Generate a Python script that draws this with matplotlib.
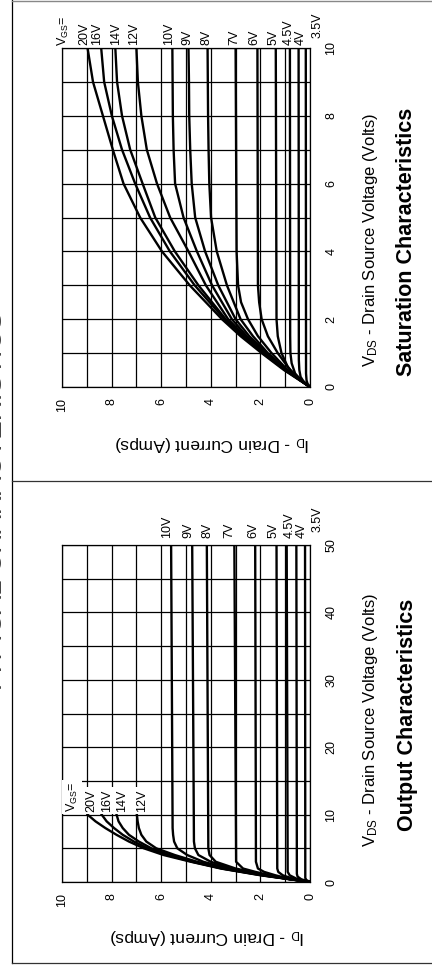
import matplotlib
matplotlib.use('Agg')
import matplotlib.pyplot as plt
from matplotlib.lines import Line2D

plt.rcParams['font.family'] = ['Liberation Sans', 'DejaVu Sans']
plt.rcParams['mathtext.fontset'] = 'custom'
plt.rcParams['mathtext.rm'] = 'Liberation Sans'
plt.rcParams['mathtext.it'] = 'Liberation Sans:italic'
plt.rcParams['mathtext.bf'] = 'Liberation Sans:bold'

# saturation characteristics, VDS 0..10 V
sat_labels = ['20V', '16V', '14V', '12V', '10V', '9V', '8V', '7V', '6V', '5V', '4.5V', '4V', '3.5V']
sat_vds = [
    [0, 0.5, 1, 1.5, 2, 3, 4, 5, 6, 7, 8, 9, 10],
    [0, 0.5, 1, 1.5, 2, 3, 4, 5, 6, 7, 8, 9, 10],
    [0, 0.5, 1, 1.5, 2, 3, 4, 5, 6, 7, 8, 9, 10],
    [0, 0.5, 1, 1.5, 2, 3, 4, 5, 6, 7, 8, 9, 10],
    [0, 0.5, 1, 1.5, 2, 3, 4, 5, 6, 7, 8, 9, 10],
    [0, 0.5, 1, 1.5, 2, 3, 4, 5, 6, 7, 8, 9, 10],
    [0, 0.5, 1, 1.5, 2, 3, 4, 5, 6, 7, 8, 9, 10],
    [0, 0.5, 1, 1.5, 2, 2.5, 3, 4, 10],
    [0, 0.5, 1, 1.5, 2, 2.5, 3, 10],
    [0, 0.3, 0.6, 1, 1.5, 2, 10],
    [0, 0.2, 0.4, 0.7, 1, 1.5, 10],
    [0, 0.15, 0.3, 0.5, 0.8, 10],
    [0, 0.1, 0.2, 0.4, 10],
]
sat_id = [
    [0, 1.05, 1.95, 2.8, 3.55, 4.85, 5.97, 6.85, 7.52, 7.95, 8.35, 8.75, 8.97],
    [0, 1.0, 1.9, 2.7, 3.45, 4.65, 5.65, 6.45, 7.05, 7.58, 7.99, 8.3, 8.42],
    [0, 1.0, 1.88, 2.68, 3.4, 4.5, 5.45, 6.24, 6.75, 7.25, 7.58, 7.78, 7.85],
    [0, 0.98, 1.85, 2.62, 3.3, 4.2, 4.9, 5.64, 6.17, 6.58, 6.8, 6.94, 7.0],
    [0, 0.95, 1.8, 2.55, 3.15, 3.95, 4.56, 5.1, 5.44, 5.5, 5.53, 5.54, 5.55],
    [0, 0.95, 1.75, 2.45, 3.0, 3.7, 4.23, 4.63, 4.77, 4.83, 4.87, 4.88, 4.9],
    [0, 0.93, 1.7, 2.3, 2.8, 3.35, 3.76, 3.99, 4.06, 4.09, 4.11, 4.12, 4.13],
    [0, 0.9, 1.55, 2.1, 2.5, 2.78, 2.9, 2.96, 3.0],
    [0, 0.8, 1.3, 1.7, 1.95, 2.05, 2.1, 2.12],
    [0, 0.55, 0.9, 1.15, 1.3, 1.35, 1.38],
    [0, 0.38, 0.6, 0.74, 0.79, 0.8, 0.81],
    [0, 0.25, 0.38, 0.43, 0.45, 0.46],
    [0, 0.1, 0.14, 0.16, 0.17],
]

# output characteristics, VDS 0..50 V
out_labels = ['20V', '16V', '14V', '12V', '10V', '9V', '8V', '7V', '6V', '5V', '4.5V', '4V', '3.5V']
out_vds = [
    [0, 1, 2, 3, 4, 5, 6, 7, 8, 9, 10],
    [0, 1, 2, 3, 4, 5, 6, 7, 8, 9, 10],
    [0, 1, 2, 3, 4, 5, 6, 7, 8, 9, 10],
    [0, 1, 2, 3, 4, 5, 6, 7, 8, 9, 10],
    [0, 1, 2, 3, 4, 5, 6, 7, 8, 50],
    [0, 1, 2, 3, 4, 5, 6, 50],
    [0, 1, 2, 3, 4, 5, 50],
    [0, 0.5, 1, 1.5, 2, 3, 50],
    [0, 0.5, 1, 1.5, 2, 3, 50],
    [0, 0.5, 1, 1.5, 2, 50],
    [0, 0.5, 1, 1.5, 50],
    [0, 0.4, 0.8, 1.2, 50],
    [0, 0.3, 0.6, 50],
]
out_id = [
    [0, 2.0, 3.6, 4.8, 5.9, 6.7, 7.3, 7.8, 8.25, 8.65, 8.97],
    [0, 1.95, 3.55, 4.75, 5.75, 6.55, 7.1, 7.55, 7.9, 8.2, 8.4],
    [0, 1.9, 3.5, 4.7, 5.65, 6.4, 6.9, 7.3, 7.55, 7.72, 7.8],
    [0, 1.85, 3.4, 4.55, 5.45, 6.2, 6.6, 6.8, 6.9, 6.95, 6.98],
    [0, 1.85, 3.3, 4.3, 4.95, 5.35, 5.48, 5.52, 5.54, 5.6],
    [0, 1.8, 3.15, 4.0, 4.5, 4.64, 4.68, 4.75],
    [0, 1.75, 3.0, 3.8, 4.05, 4.1, 4.16],
    [0, 1.0, 1.6, 2.2, 2.7, 2.98, 3.05],
    [0, 0.85, 1.4, 1.85, 2.1, 2.18, 2.21],
    [0, 0.7, 1.1, 1.28, 1.32, 1.35],
    [0, 0.55, 0.82, 0.9, 0.94],
    [0, 0.35, 0.5, 0.53, 0.55],
    [0, 0.15, 0.19, 0.2],
]

W, H = 432, 966
fig = plt.figure(figsize=(W / 100, H / 100), dpi=100)


def fx(px):
    return px / W


def fy(py):
    return 1 - py / H


def make_panel(top, bottom, vmax, vstep, vlabel_step):
    ax = fig.add_axes([fx(62), fy(bottom), fx(310) - fx(62), fy(top) - fy(bottom)])
    ax.set_xlim(10, 0)
    ax.set_ylim(0, vmax)
    ax.set_xticks(range(0, 11))
    ax.set_xticklabels([str(v) if v % 2 == 0 else '' for v in range(0, 11)], rotation=90)
    vt = list(range(0, vmax + 1, vstep))
    ax.set_yticks(vt)
    ax.set_yticklabels([str(v) if v % vlabel_step == 0 else '' for v in vt], rotation=90, va='center')
    ax.yaxis.tick_right()
    ax.tick_params(axis='x', length=0, pad=8, labelsize=9)
    ax.tick_params(axis='y', length=0, pad=11, labelsize=9)
    ax.grid(True, color='black', lw=0.9)
    for s in ax.spines.values():
        s.set_linewidth(0.9)
    ax.set_axisbelow(True)
    return ax


ax1 = make_panel(48, 387, 10, 1, 2)
for v, i in zip(sat_vds, sat_id):
    ax1.plot(i, v, color='black', lw=1.7, solid_joinstyle='round')

sat_pos = [9.1, 8.58, 7.81, 7.09, 5.68, 4.96, 4.19, 3.06, 2.26, 1.49, 0.85, 0.36, -0.32]
ax1.text(9.95, 10.05, r'V$_{\mathrm{GS}}$=', rotation=90, ha='center', va='bottom', fontsize=9, clip_on=False)
for lab, xp in zip(sat_labels, sat_pos):
    ax1.text(xp, 10.1 if xp > 0 else 10.3, lab, rotation=90, ha='center', va='bottom', fontsize=9,
             clip_on=False)

ax2 = make_panel(545, 882, 50, 5, 10)
for v, i in zip(out_vds, out_id):
    ax2.plot(i, v, color='black', lw=1.7, solid_joinstyle='round')

box = dict(facecolor='white', edgecolor='none', pad=1.5)
in_pos = [8.82, 8.18, 7.57, 6.77]
ax2.text(9.59, 10.4, r'V$_{\mathrm{GS}}$=', rotation=90, ha='center', va='bottom', fontsize=9, bbox=box)
for lab, xp in zip(out_labels[:4], in_pos):
    ax2.text(xp, 10.4, lab, rotation=90, ha='center', va='bottom', fontsize=9, bbox=box)
out_pos = [5.76, 4.91, 4.15, 3.26, 2.3, 1.49, 0.81, 0.32, -0.32]
for lab, xp in zip(out_labels[4:], out_pos):
    ax2.text(xp, 51.0 if xp > 0 else 52.0, lab, rotation=90, ha='center', va='bottom', fontsize=9,
             clip_on=False)

# axis labels and captions
for vy, ty, iy, ix, title in [(240, 242, 443, 212, 'Saturation Characteristics'),
                              (720, 715, 936, 207, 'Output Characteristics')]:
    fig.text(fx(370), fy(vy), r'V$_{\mathrm{DS}}$ - Drain Source Voltage (Volts)', rotation=90,
             ha='center', va='center', fontsize=12)
    fig.text(fx(407), fy(ty), title, rotation=90, ha='center', va='center', fontsize=15.5,
             fontweight='bold')
    fig.text(fx(ix), fy(iy), r'I$_{\mathrm{D}}$ - Drain Current (Amps)', rotation=180,
             ha='center', va='center', fontsize=12.5)

# page title, cut off at the left edge as in the scan
fig.text(fx(8.5), fy(503), 'TYPICAL CHARACTERISTICS', rotation=90, ha='right', va='center',
         fontsize=20, color='#444444')

# frame lines
fig.add_artist(Line2D([fx(12), fx(12)], [fy(0), fy(963)], color='black', lw=0.9))
fig.add_artist(Line2D([fx(12), 1], [fy(481), fy(481)], color='#333333', lw=0.9))
fig.add_artist(Line2D([fx(12), 1], [fy(963), fy(963)], color='#333333', lw=0.9))
fig.add_artist(Line2D([fx(12), 1], [fy(0.5), fy(0.5)], color='#888888', lw=1.0))

fig.savefig('out.png', dpi=100)
